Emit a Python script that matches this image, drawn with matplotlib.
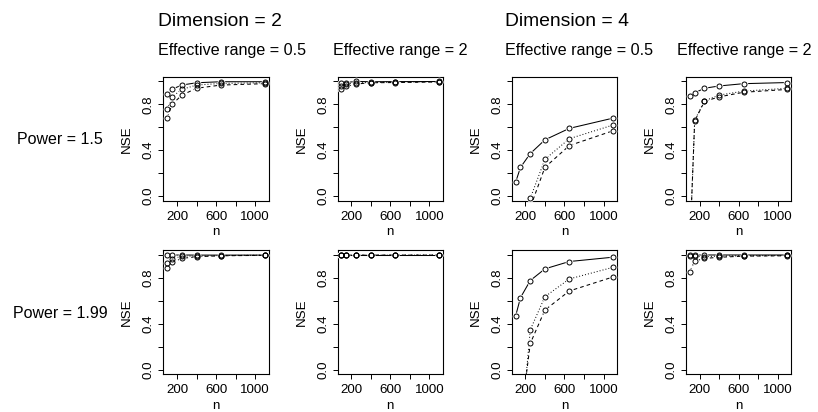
import numpy as np
import matplotlib.pyplot as plt

plt.rcParams['font.family'] = ['Liberation Sans', 'DejaVu Sans']

# --- DATA ---
n_vals = [100, 150, 250, 400, 650, 1100]

# each panel: [solid, dotted, dashed]
nse_d2_r05_p15 = [[0.894, 0.932, 0.968, 0.988, 0.997, 0.997],
                  [0.762, 0.865, 0.930, 0.968, 0.982, 0.988],
                  [0.683, 0.800, 0.880, 0.940, 0.968, 0.980]]
nse_d2_r2_p15 = [[0.982, 0.990, 1.000, 0.997, 0.998, 0.999],
                 [0.956, 0.977, 0.988, 0.990, 0.995, 0.997],
                 [0.932, 0.956, 0.977, 0.988, 0.990, 0.995]]
nse_d4_r05_p15 = [[0.12, 0.25, 0.37, 0.49, 0.59, 0.68],
                  [-1.2, -0.6, -0.02, 0.32, 0.50, 0.62],
                  [-1.5, -0.8, -0.10, 0.25, 0.44, 0.57]]
nse_d4_r2_p15 = [[0.87, 0.90, 0.94, 0.96, 0.98, 0.99],
                 [-0.45, 0.66, 0.83, 0.88, 0.915, 0.94],
                 [-0.45, 0.655, 0.825, 0.865, 0.905, 0.93]]
nse_d2_r05_p199 = [[0.998, 0.999, 1.000, 0.999, 0.999, 0.999],
                   [0.930, 0.965, 0.990, 0.990, 0.995, 0.998],
                   [0.890, 0.936, 0.970, 0.985, 0.993, 0.997]]
nse_d2_r2_p199 = [[0.999, 0.999, 0.999, 0.999, 0.999, 0.999],
                  [0.998, 0.998, 0.999, 0.999, 0.999, 0.999],
                  [0.997, 0.998, 0.998, 0.999, 0.999, 0.999]]
nse_d4_r05_p199 = [[0.467, 0.628, 0.777, 0.879, 0.943, 0.981],
                   [-2.0, -0.6, 0.347, 0.636, 0.791, 0.893],
                   [-2.5, -0.45, 0.228, 0.520, 0.686, 0.809]]
nse_d4_r2_p199 = [[0.999, 0.999, 1.000, 1.000, 1.000, 1.000],
                  [0.995, 0.990, 0.985, 0.990, 0.993, 0.996],
                  [0.855, 0.947, 0.970, 0.980, 0.990, 0.993]]

panels = [[nse_d2_r05_p15, nse_d2_r2_p15, nse_d4_r05_p15, nse_d4_r2_p15],
          [nse_d2_r05_p199, nse_d2_r2_p199, nse_d4_r05_p199, nse_d4_r2_p199]]

dim_labels = ["Dimension = 2", "Dimension = 4"]
range_labels = ["Effective range = 0.5", "Effective range = 2"]
power_labels = ["Power = 1.5", "Power = 1.99"]

# --- LAYOUT (pixels) ---
W, H = 818, 412
col_left = [163.3, 337.5, 511.7, 685.9]
ax_w = 105.5
row_top = [76.8, 250.4]
ax_h = 123.8

styles = [dict(linestyle='-'),
          dict(linestyle=(0, (0.9, 2.0))),
          dict(linestyle=(0, (3.5, 3.0)))]

fig = plt.figure(figsize=(W / 100, H / 100), dpi=100)

for r in range(2):
    for c in range(4):
        ax = fig.add_axes([col_left[c] / W, 1 - (row_top[r] + ax_h) / H,
                           ax_w / W, ax_h / H])
        for k, series in enumerate(panels[r][c]):
            ax.plot(n_vals, series, color='black', lw=0.75, zorder=2 + 2 * k,
                    **styles[k])
            ax.plot(n_vals, series, 'o', ms=5.5, mfc='white', mec='none',
                    zorder=3 + 2 * k)
        for series in panels[r][c]:
            ax.plot(n_vals, series, 'o', ms=3.6, mfc='none', mec='black',
                    mew=0.7, zorder=20)
        ax.set_xlim(60, 1140)
        ax.set_ylim(-0.04, 1.04)
        ax.set_xticks([200, 400, 600, 800, 1000])
        ax.set_xticklabels(["200", "", "600", "", "1000"])
        ax.set_yticks([0.0, 0.2, 0.4, 0.6, 0.8, 1.0])
        ax.set_yticklabels(["0.0", "", "0.4", "", "0.8", ""], rotation=90,
                           va='center')
        ax.tick_params(direction='out', length=3.6, width=0.7, labelsize=9.6)
        ax.tick_params(axis='x', pad=3.8)
        ax.tick_params(axis='y', pad=2.5)
        for s in ax.spines.values():
            s.set_linewidth(0.8)
        ax.set_xlabel("n", fontsize=9.6)
        ax.set_ylabel("NSE", fontsize=9.6)
        ax.xaxis.set_label_coords(0.5, -0.205)
        ax.yaxis.set_label_coords(-0.285, 0.5)

# --- HEADERS ---
head_x = [158, 333, 505, 677]
for i, lab in enumerate(dim_labels):
    fig.text(head_x[2 * i] / W, 1 - 21 / H, lab, fontsize=13.9,
             ha='left', va='center')
for c in range(4):
    fig.text(head_x[c] / W, 1 - 50 / H, range_labels[c % 2], fontsize=11.6,
             ha='left', va='center')
for r, lab in enumerate(power_labels):
    fig.text(60 / W, 1 - (row_top[r] + ax_h / 2 + 1) / H, lab, fontsize=11.5,
             ha='center', va='center')

fig.savefig("out.png", dpi=100)
